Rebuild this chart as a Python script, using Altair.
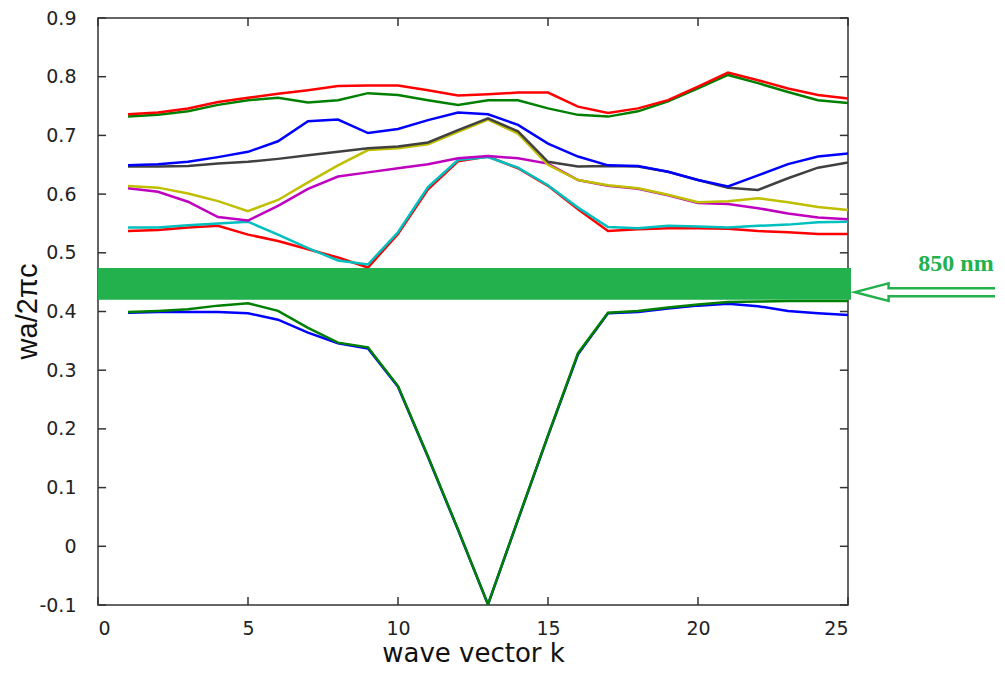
import altair as alt
import pandas as pd

k_values = list(range(1, 26))

band_names = ["b01", "b02", "b03", "b04", "b05", "b06", "b07", "b08", "b09", "b10"]
band_colors = ["#0000FF", "#008000", "#FF0000", "#00BFBF", "#BF00BF",
               "#BFBF00", "#404040", "#0000FF", "#008000", "#FF0000"]

b01 = [0.398, 0.399, 0.399, 0.399, 0.397, 0.386, 0.364, 0.346, 0.337, 0.272, 0.152, 0.028, -0.099,
       0.045, 0.188, 0.327, 0.397, 0.399, 0.405, 0.410, 0.413, 0.409, 0.401, 0.397, 0.394]
b02 = [0.399, 0.401, 0.404, 0.410, 0.414, 0.401, 0.372, 0.347, 0.339, 0.273, 0.153, 0.029, -0.099,
       0.046, 0.189, 0.329, 0.398, 0.401, 0.407, 0.412, 0.416, 0.417, 0.418, 0.418, 0.418]
b03 = [0.537, 0.539, 0.543, 0.546, 0.531, 0.520, 0.506, 0.492, 0.475, 0.532, 0.608, 0.656, 0.664,
       0.644, 0.614, 0.574, 0.537, 0.540, 0.542, 0.542, 0.541, 0.537, 0.535, 0.532, 0.532]
b04 = [0.543, 0.543, 0.547, 0.550, 0.553, 0.531, 0.508, 0.487, 0.480, 0.535, 0.612, 0.658, 0.663,
       0.645, 0.615, 0.577, 0.544, 0.542, 0.546, 0.545, 0.543, 0.546, 0.548, 0.552, 0.553]
b05 = [0.610, 0.604, 0.587, 0.561, 0.555, 0.580, 0.609, 0.630, 0.637, 0.644, 0.651, 0.661, 0.665,
       0.661, 0.652, 0.624, 0.614, 0.609, 0.598, 0.585, 0.583, 0.576, 0.567, 0.560, 0.557]
b06 = [0.614, 0.611, 0.601, 0.588, 0.571, 0.590, 0.620, 0.649, 0.675, 0.678, 0.685, 0.706, 0.727,
       0.703, 0.650, 0.624, 0.615, 0.610, 0.599, 0.586, 0.588, 0.593, 0.586, 0.578, 0.573]
b07 = [0.647, 0.647, 0.648, 0.652, 0.655, 0.660, 0.666, 0.672, 0.678, 0.681, 0.688, 0.709, 0.729,
       0.707, 0.655, 0.647, 0.648, 0.647, 0.638, 0.624, 0.611, 0.607, 0.627, 0.645, 0.654]
b08 = [0.649, 0.651, 0.655, 0.663, 0.672, 0.690, 0.724, 0.727, 0.704, 0.711, 0.726, 0.739, 0.736,
       0.718, 0.686, 0.664, 0.649, 0.648, 0.638, 0.624, 0.613, 0.632, 0.651, 0.664, 0.669]
b09 = [0.732, 0.735, 0.741, 0.752, 0.760, 0.764, 0.756, 0.760, 0.772, 0.769, 0.760, 0.752, 0.760,
       0.760, 0.746, 0.735, 0.732, 0.741, 0.758, 0.780, 0.803, 0.789, 0.774, 0.760, 0.755]
b10 = [0.736, 0.739, 0.746, 0.757, 0.764, 0.771, 0.777, 0.784, 0.785, 0.785, 0.777, 0.768, 0.770,
       0.773, 0.773, 0.749, 0.738, 0.746, 0.760, 0.783, 0.807, 0.794, 0.780, 0.769, 0.763]
bands = [b01, b02, b03, b04, b05, b06, b07, b08, b09, b10]

x_ticks = [0, 5, 10, 15, 20, 25]
y_ticks = [-0.1, 0, 0.1, 0.2, 0.3, 0.4, 0.5, 0.6, 0.7, 0.8, 0.9]

# 850 nm band and annotation
gap_low, gap_high = 0.42, 0.474
gap_x0, gap_x1 = 0, 25.1
label_text = "850 nm"
label_k, label_v = 28.6, 0.481
arrow_k, arrow_v = 27.9, 0.433

GREEN = "#22B14C"
XD = [0, 25]
YD = [-0.1, 0.9]

rows = []
for name, vals in zip(band_names, bands):
    for k, v in zip(k_values, vals):
        rows.append({"band": name, "k": k, "v": v})
df = pd.DataFrame(rows)

xs = alt.Scale(domain=XD, nice=False, zero=False)
ys = alt.Scale(domain=YD, nice=False, zero=False)

lines = alt.Chart(df).mark_line(strokeWidth=2.5, clip=True).encode(
    x=alt.X("k:Q", scale=xs,
            axis=alt.Axis(values=x_ticks, ticks=False, domain=False, grid=False,
                          labelPadding=14, labelFontSize=19, labelColor="#222",
                          labelFont="DejaVu Sans",
                          title="wave vector k", titleFontSize=26, titleFontWeight="normal",
                          titleFont="DejaVu Sans", titleBaseline="alphabetic",
                          titleY=56, titleColor="#111")),
    y=alt.Y("v:Q", scale=ys,
            axis=alt.Axis(values=y_ticks, ticks=False, domain=False, grid=False,
                          labelPadding=22, labelFontSize=19, labelColor="#222",
                          labelFont="DejaVu Sans",
                          labelExpr="datum.value < 0 ? '-' + format(-datum.value, '.1f') : format(datum.value, '.1~f')",
                          title="wa/2πc", titleFontSize=29, titleFontWeight="normal",
                          titleFont="Liberation Sans", titleAngle=270, titleBaseline="bottom",
                          titleAlign="center", titleX=-56, titleY=293, titleColor="#111")),
    color=alt.Color("band:N", scale=alt.Scale(domain=band_names, range=band_colors), legend=None),
    detail="band:N",
)

gap_df = pd.DataFrame({"x0": [gap_x0], "x1": [gap_x1], "y0": [gap_low], "y1": [gap_high]})
gap = alt.Chart(gap_df).mark_rect(color=GREEN, clip=False).encode(
    x=alt.X("x0:Q", scale=xs), x2="x1:Q",
    y=alt.Y("y0:Q", scale=ys), y2="y1:Q",
)

tick_lx = 0.27
tick_ly = 0.0136
left_df = pd.DataFrame({"y": y_ticks, "x0": [XD[0]] * len(y_ticks), "x1": [XD[0] + tick_lx] * len(y_ticks)})
right_df = pd.DataFrame({"y": y_ticks, "x0": [XD[1] - tick_lx] * len(y_ticks), "x1": [XD[1]] * len(y_ticks)})
bot_df = pd.DataFrame({"x": x_ticks, "y0": [YD[0]] * len(x_ticks), "y1": [YD[0] + tick_ly] * len(x_ticks)})
top_df = pd.DataFrame({"x": x_ticks, "y0": [YD[1] - tick_ly] * len(x_ticks), "y1": [YD[1]] * len(x_ticks)})

def hticks(d):
    return alt.Chart(d).mark_rule(color="#333", strokeWidth=1.5).encode(
        x=alt.X("x0:Q", scale=xs), x2="x1:Q", y=alt.Y("y:Q", scale=ys))

def vticks(d):
    return alt.Chart(d).mark_rule(color="#333", strokeWidth=1.5).encode(
        x=alt.X("x:Q", scale=xs), y=alt.Y("y0:Q", scale=ys), y2="y1:Q")

label_df = pd.DataFrame({"k": [label_k], "v": [label_v], "t": [label_text]})
label = alt.Chart(label_df).mark_text(
    font="Liberation Serif", fontWeight="bold", fontSize=24, color=GREEN, clip=False
).encode(x=alt.X("k:Q", scale=xs), y=alt.Y("v:Q", scale=ys), text="t:N")

arrow_path = ("M -1 0 L -0.58 -0.11 L -0.58 -0.05 L 1 -0.05 L 1 0.05 "
              "L -0.58 0.05 L -0.58 0.11 Z")
arrow_df = pd.DataFrame({"k": [arrow_k], "v": [arrow_v]})
arrow = alt.Chart(arrow_df).mark_point(
    shape=arrow_path, size=25600, filled=True, fill="white", stroke=GREEN,
    strokeWidth=2.5, opacity=1, clip=False
).encode(x=alt.X("k:Q", scale=xs), y=alt.Y("v:Q", scale=ys))

chart = alt.layer(
    lines, gap, hticks(left_df), hticks(right_df), vticks(bot_df), vticks(top_df), label, arrow
).properties(
    width=750, height=587,
    autosize=alt.AutoSizeParams(type="none"),
    padding={"left": 90, "top": 10, "right": 147, "bottom": 63},
    background="white",
).configure_view(stroke="#333", strokeWidth=1.5)

chart.save("out.html", embed_options={"renderer": "svg", "actions": False})
